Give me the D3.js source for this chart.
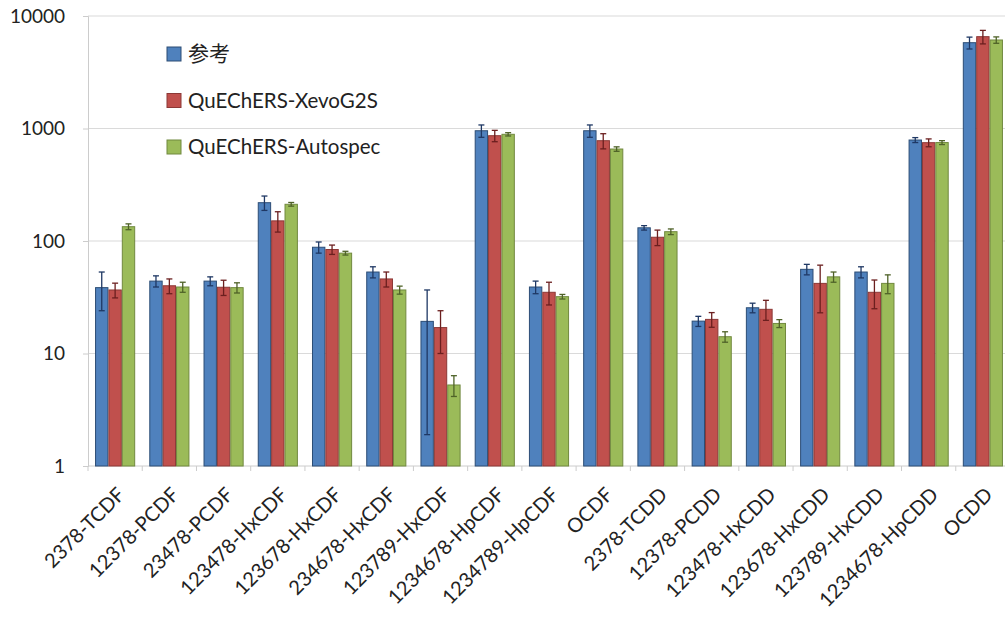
<!DOCTYPE html>
<html>
<head>
<meta charset="utf-8">
<script src="https://cdn.jsdelivr.net/npm/d3@7"></script>
<style>
body { margin: 0; background: #fff; }
text { font-family: Lato, "Noto Sans", sans-serif; fill: #222; }
</style>
</head>
<body>
<script>
var categories = ["2378-TCDF", "12378-PCDF", "23478-PCDF", "123478-HxCDF", "123678-HxCDF",
  "234678-HxCDF", "123789-HxCDF", "1234678-HpCDF", "1234789-HpCDF", "OCDF", "2378-TCDD",
  "12378-PCDD", "123478-HxCDD", "123678-HxCDD", "123789-HxCDD", "1234678-HpCDD", "OCDD"];
var seriesNames = ["参考", "QuEChERS-XevoG2S", "QuEChERS-Autospec"];
var refVals  = [38.5, 44, 44, 219, 88, 53, 19.3, 955, 39, 955, 131, 19.4, 25.5, 56, 53, 790, 5790];
var refErr   = [14.5, 5, 4, 32, 10, 6, 17.4, 120, 5, 120, 6, 2, 2.5, 6, 6, 40, 700];
var xevoVals = [36.7, 40, 38.8, 151, 84, 46, 17, 863, 35, 779, 108, 20.1, 24.7, 42, 35, 748, 6550];
var xevoErr  = [5.5, 6, 6, 31, 8, 7, 7, 100, 8, 120, 17, 3, 5, 19, 10, 60, 900];
var autoVals = [134, 39, 38.5, 212, 78, 36.7, 5.25, 888, 32, 657, 121, 14.1, 18.5, 48, 42, 750, 6120];
var autoErr  = [8, 4, 4, 8, 3, 3, 1.1, 30, 1.5, 30, 7, 1.5, 1.5, 5, 8, 30, 400];
var yTicks = [1, 10, 100, 1000, 10000];

var fills = ["#4f81bd", "#c0504d", "#9bbb59"];
var strokes = ["#2c4d75", "#8c3836", "#71893f"];
var errColors = ["#1f3864", "#6b1f1f", "#4f6228"];

var width = 1005, height = 623;
var plotLeft = 88, plotRight = 1010, plotTop = 16, plotBottom = 466;

var svg = d3.select("body").append("svg")
  .attr("width", width)
  .attr("height", height);

var y = d3.scaleLog().domain([1, 10000]).range([plotBottom, plotTop]);
var x0 = d3.scaleBand().domain(categories).range([plotLeft, plotRight])
  .paddingInner(0.26).paddingOuter(0.13);
var x1 = d3.scaleBand().domain([0, 1, 2]).range([0, x0.bandwidth()]);

// gridlines
svg.selectAll(".grid").data(yTicks.slice(1)).enter().append("line")
  .attr("x1", plotLeft).attr("x2", width)
  .attr("y1", function(d) { return y(d); })
  .attr("y2", function(d) { return y(d); })
  .attr("stroke", "#dadada").attr("stroke-width", 1.2);

// y axis
var yAxis = svg.append("g").attr("transform", "translate(" + plotLeft + ",0)")
  .call(d3.axisLeft(y).tickValues(yTicks).tickFormat(d3.format("d")).tickSize(5).tickPadding(18));
yAxis.select(".domain").attr("stroke", "#cccccc");
yAxis.selectAll(".tick line").attr("stroke", "#cccccc");
yAxis.selectAll("text").style("font-size", "19px").attr("fill", "#222");

// x axis baseline + ticks between groups
svg.append("line").attr("x1", plotLeft).attr("x2", width)
  .attr("y1", plotBottom).attr("y2", plotBottom).attr("stroke", "#cccccc");
var step = x0.step();
svg.selectAll(".xtick").data(categories).enter().append("line")
  .attr("x1", function(d) { return x0(d) - step * 0.13; })
  .attr("x2", function(d) { return x0(d) - step * 0.13; })
  .attr("y1", plotBottom).attr("y2", plotBottom + 5)
  .attr("stroke", "#cccccc");

var series = [
  { vals: refVals, errs: refErr },
  { vals: xevoVals, errs: xevoErr },
  { vals: autoVals, errs: autoErr }
];

series.forEach(function(s, si) {
  var g = svg.append("g");
  g.selectAll("rect").data(categories).enter().append("rect")
    .attr("x", function(d) { return x0(d) + x1(si) + 0.5; })
    .attr("y", function(d, i) { return y(s.vals[i]); })
    .attr("width", x1.bandwidth() - 1)
    .attr("height", function(d, i) { return plotBottom - y(s.vals[i]); })
    .attr("fill", fills[si])
    .attr("stroke", strokes[si])
    .attr("stroke-width", 1);

  // error bars
  categories.forEach(function(c, i) {
    var cx = x0(c) + x1(si) + x1.bandwidth() / 2;
    var lo = Math.max(s.vals[i] - s.errs[i], 1.02);
    var hi = s.vals[i] + s.errs[i];
    g.append("line").attr("x1", cx).attr("x2", cx)
      .attr("y1", y(hi)).attr("y2", y(lo))
      .attr("stroke", errColors[si]).attr("stroke-width", 1.3);
    [hi, lo].forEach(function(v) {
      if (v <= 1.02) return;
      g.append("line").attr("x1", cx - 3).attr("x2", cx + 3)
        .attr("y1", y(v)).attr("y2", y(v))
        .attr("stroke", errColors[si]).attr("stroke-width", 1.3);
    });
  });
});

// x labels
svg.selectAll(".xlab").data(categories).enter().append("text")
  .attr("transform", function(d) {
    return "translate(" + (x0(d) + x0.bandwidth() / 2 + 6) + "," + (plotBottom + 25) + ") rotate(-45)";
  })
  .attr("text-anchor", "end")
  .attr("dy", "0.35em")
  .style("font-size", "20px")
  .text(function(d) { return d; });

// legend
var legend = svg.append("g").attr("transform", "translate(167,54)");
seriesNames.forEach(function(n, i) {
  var row = legend.append("g").attr("transform", "translate(0," + (i * 46.5) + ")");
  row.append("rect").attr("x", 0).attr("y", -7).attr("width", 14).attr("height", 14)
    .attr("fill", fills[i]).attr("stroke", strokes[i]);
  row.append("text").attr("x", 21).attr("dy", "0.35em")
    .style("font-size", i === 0 ? "21px" : "20.5px")
    .style("font-family", i === 0 ? "'Noto Sans CJK SC', sans-serif" : null)
    .text(n);
});
</script>
</body>
</html>
